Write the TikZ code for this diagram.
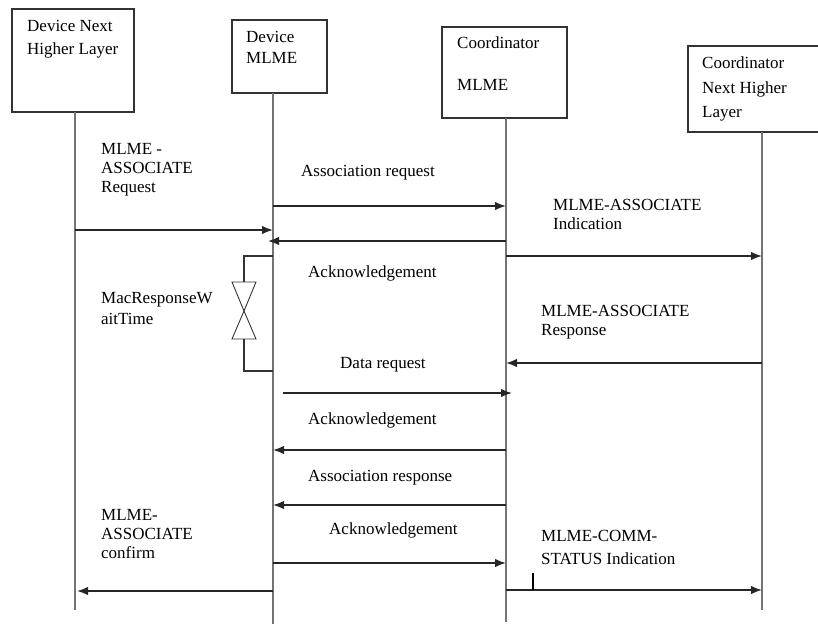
\documentclass[tikz,border=0pt]{standalone}
\usepackage{fontspec}
\setmainfont{Liberation Serif}
\usetikzlibrary{arrows.meta}

\begin{document}
\begin{tikzpicture}[x=1pt,y=-1pt,
  box/.style={draw=black!80,line width=1.3pt,inner sep=0pt},
  lbl/.style={anchor=north west,inner sep=0pt,align=left,font=\fontsize{17}{19}\selectfont},
  life/.style={draw=black!55,line width=2pt},
  msg/.style={draw=black!85,line width=1.6pt,-{Latex[length=11pt,width=8.5pt]}}]
  \useasboundingbox (0,0) rectangle (818,624);

  %% Heads
  \node[box,minimum width=122pt,minimum height=103pt] (dnhl) at (73,60.5) {};
  \node[box,minimum width=95pt,minimum height=73pt] (dml) at (279.5,56.5) {};
  \node[box,minimum width=125pt,minimum height=91pt] (cml) at (504.5,72.5) {};
  \node[box,minimum width=134pt,minimum height=86pt] (cnhl) at (755,89) {};

  \node[lbl,font=\fontsize{17}{23}\selectfont] (dnhltxt) at (27,20) {Device Next\\Higher Layer};
  \node[lbl,font=\fontsize{17}{21}\selectfont] (dmltxt) at (246,31) {Device\\MLME};
  \node[lbl,font=\fontsize{17}{21}\selectfont] (cmltxt) at (457,37) {Coordinator\\[21pt]MLME};
  \node[lbl,font=\fontsize{17}{24.5}\selectfont] (cnhltxt) at (702,57) {Coordinator\\Next Higher\\Layer};

  %% Lifelines
  \coordinate (dnhltop) at (75,112);
  \coordinate (dnhlend) at (75,610);
  \coordinate (dmltop) at (273,93);
  \coordinate (dmlend) at (273,624);
  \coordinate (cmltop) at (506,118);
  \coordinate (cmlend) at (506,622);
  \coordinate (cnhltop) at (762,132);
  \coordinate (cnhlend) at (762,610);
  \draw[life] (dnhltop) -- (dnhlend);
  \draw[life] (dmltop) -- (dmlend);
  \draw[life] (cmltop) -- (cmlend);
  \draw[life] (cnhltop) -- (cnhlend);

  %% Association
  \draw[msg] (dnhltop |- 0,230) -- (dmltop |- 0,230);
  \node[lbl] (assocreq) at (101,143) {MLME -\\ASSOCIATE\\Request};
  \draw[msg] (dmltop |- 0,206) -- (cmltop |- 0,206);
  \node[lbl] (assocframe) at (301,165) {Association request};
  \draw[msg] (cmltop |- 0,241) -- ([xshift=-5pt]dmltop |- 0,241);
  \node[lbl] (ackone) at (308,265) {Acknowledgement};
  \draw[msg] (cmltop |- 0,256) -- (cnhltop |- 0,256);
  \node[lbl] (assocind) at (553,199) {MLME-ASSOCIATE\\Indication};

  %% Wait timer
  \draw[line width=1.3pt,black!80] (dmltop |- 0,256) -- (244,256) -- (244,282);
  \draw[line width=0.9pt,black!80] (232,282) -- (256,282) -- (244,311) -- cycle;
  \draw[line width=0.9pt,black!80] (244,311) -- (256,339) -- (232,339) -- cycle;
  \draw[line width=1.3pt,black!80] (244,339) -- (244,371) -- (dmltop |- 0,371);
  \node[lbl,font=\fontsize{17}{21}\selectfont] (waittime) at (101,292) {MacResponseW\\aitTime};

  \draw[msg] (cnhltop |- 0,363) -- (cmltop |- 0,363);
  \node[lbl] (assocrsp) at (541,305) {MLME-ASSOCIATE\\Response};

  %% Polling
  \draw[msg] ([xshift=10pt]dmltop |- 0,393) -- ([xshift=6pt]cmltop |- 0,393);
  \node[lbl] (datareq) at (340,357) {Data request};
  \draw[msg] (cmltop |- 0,450) -- (dmltop |- 0,450);
  \node[lbl] (acktwo) at (308,412) {Acknowledgement};
  \draw[msg] (cmltop |- 0,505) -- (dmltop |- 0,505);
  \node[lbl] (assocrspframe) at (308,470) {Association response};
  \draw[msg] (dmltop |- 0,563) -- (cmltop |- 0,563);
  \node[lbl] (ackthree) at (329,522) {Acknowledgement};

  %% Confirm and status
  \draw[msg] (dmltop |- 0,591) -- ([xshift=2pt]dnhltop |- 0,591);
  \node[lbl] (assoccnf) at (101,509) {MLME-\\ASSOCIATE\\confirm};
  \draw[msg] (cmltop |- 0,590) -- (cnhltop |- 0,590);
  \coordinate (ticktop) at (533,573);
  \draw[line width=1.8pt] (ticktop) -- (ticktop |- 0,590);
  \node[lbl,font=\fontsize{17}{23}\selectfont] (commstatus) at (541,530) {MLME-COMM-\\STATUS Indication};

\end{tikzpicture}
\end{document}
